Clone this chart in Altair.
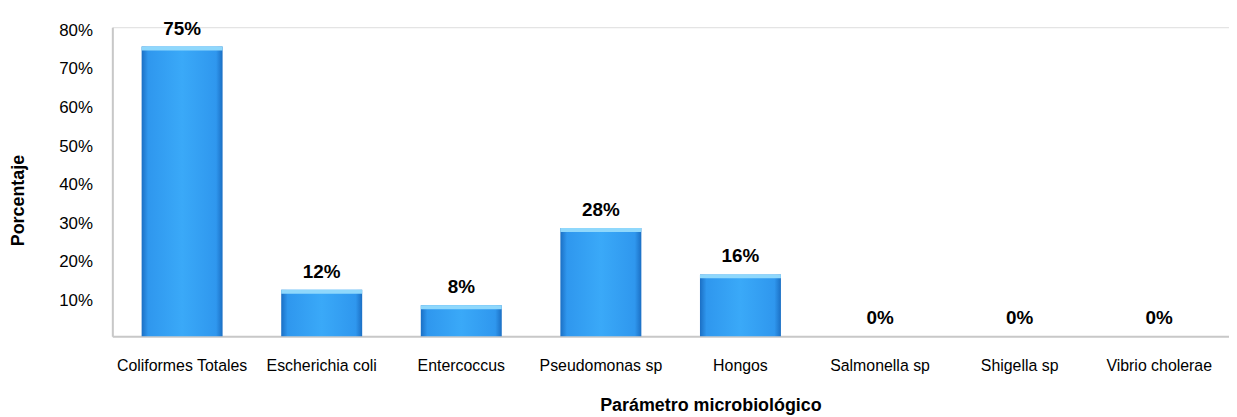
import altair as alt
import pandas as pd

categories = ["Coliformes Totales", "Escherichia coli", "Entercoccus", "Pseudomonas sp",
              "Hongos", "Salmonella sp", "Shigella sp", "Vibrio cholerae"]
values = [75, 12, 8, 28, 16, 0, 0, 0]
y_ticks = [0, 10, 20, 30, 40, 50, 60, 70, 80]

df = pd.DataFrame({"cat": categories, "v": values})
df["label"] = df["v"].astype(str) + "%"

FONT = "Liberation Sans"
xscale = alt.Scale(paddingInner=0.42, paddingOuter=0.21)
yscale = alt.Scale(domain=[0, 80], nice=False)

x = alt.X("cat:N", sort=categories, scale=xscale,
          axis=alt.Axis(title="Parámetro microbiológico", labelAngle=0, ticks=False,
                        labelFontSize=16, labelFont=FONT, labelColor="#000000", labelPadding=22,
                        titleFontSize=18, titleFont=FONT, titleFontWeight="bold",
                        titleX=602, titleY=75, titleAlign="center", titleBaseline="alphabetic",
                        domainColor="#c8c8c8", domainWidth=2, labelOverlap=False))
y = alt.Y("v:Q", scale=yscale,
          axis=alt.Axis(title="Porcentaje", values=y_ticks,
                        labelExpr="datum.value == 0 ? '' : datum.value + '%'",
                        grid=False, ticks=False, labelFontSize=17, labelFont=FONT,
                        labelColor="#000000", labelPadding=20, labelOffset=3, labelOverlap=False,
                        titleFontSize=18, titleFont=FONT, titleFontWeight="bold",
                        titleX=-94, titleY=174, titleAlign="center", titleBaseline="middle",
                        titleAngle=270,
                        domainColor="#c8c8c8", domainWidth=2))

grad = alt.Gradient(gradient="linear", x1=0, x2=1, y1=0, y2=0,
                    stops=[alt.GradientStop(color="#1b6fc4", offset=0),
                           alt.GradientStop(color="#2f97ee", offset=0.08),
                           alt.GradientStop(color="#3aa9f8", offset=0.5),
                           alt.GradientStop(color="#2f97ee", offset=0.92),
                           alt.GradientStop(color="#1b6fc4", offset=1)])

bars = alt.Chart(df).mark_bar(color=grad).encode(x=x, y=y)

cap = alt.Chart(df).transform_calculate(
    top="max(datum.v - 1, 0)"
).mark_bar(color="#8fd8fc").encode(x=x, y=y, y2="top:Q")

text = alt.Chart(df).mark_text(baseline="alphabetic", dy=-12, fontSize=19,
                               fontWeight="bold", font=FONT, color="#000000").encode(
    x=x, y=y, text="label:N")

chart = alt.layer(bars, cap, text).properties(
    width=1124, height=311,
    autosize=alt.AutoSizeParams(type="none"),
    padding={"left": 105, "top": 18, "right": 0, "bottom": 80},
).configure_view(stroke=None).configure(background="#ffffff")

chart.save("out.html", embed_options={"renderer": "svg", "actions": False})
